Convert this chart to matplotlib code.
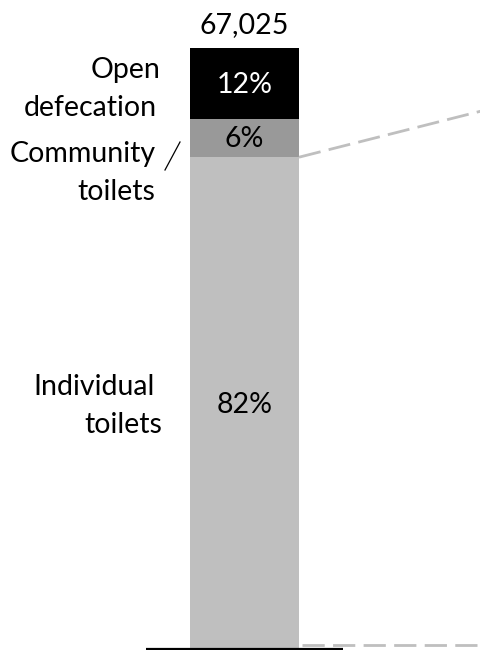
import matplotlib
matplotlib.use("Agg")
import matplotlib.pyplot as plt

plt.rcParams['font.family'] = ['Lato', 'DejaVu Sans']

# Data
segments = ["Individual\ntoilets", "Community\ntoilets", "Open\ndefecation"]
shares = [81.8, 6.4, 11.8]
pct_labels = ["82%", "6%", "12%"]
colors = ["#BFBFBF", "#999999", "#000000"]
text_colors = ["#000000", "#000000", "#FFFFFF"]
total_label = "67,025"

W, H = 481, 650
fig = plt.figure(figsize=(W / 100, H / 100), dpi=100)
ax = fig.add_axes([0, 0, 1, 1])
ax.set_xlim(-244.5 / 109, (W - 244.5) / 109)
ax.set_ylim(-2 / 6, 648 / 6)
ax.axis("off")


def px(x, y):
    return (x - 244.5) / 109, (648 - y) / 6


fs = 20.5
bottom = 0
pct_baselines = [413, 147, 93]
for val, pl, c, tc, bl in zip(shares, pct_labels, colors, text_colors, pct_baselines):
    ax.bar(0, val, bottom=bottom, width=1.0, color=c, edgecolor="none")
    ax.text(0, px(0, bl)[1], pl, ha="center", va="baseline", color=tc, fontsize=fs)
    bottom += val

ax.text(0, px(0, 33)[1], total_label, ha="center", va="baseline", fontsize=fs)

# segment labels (left side), one line at a time
label_lines = [
    (segments[0].split("\n"), [(155, 395), (162, 433)]),
    (segments[1].split("\n"), [(156, 162), (155, 200)]),
    (segments[2].split("\n"), [(160, 78), (157, 116.5)]),
]
for lines, pos in label_lines:
    for t, (x, y) in zip(lines, pos):
        xd, yd = px(x, y)
        ax.text(xd, yd, t, ha="right", va="baseline", fontsize=fs)

# slash next to "Community"
(sx0, sy0), (sx1, sy1) = px(165, 170), px(180, 142)
ax.plot([sx0, sx1], [sy0, sy1], color="black", lw=0.9)

# baseline
ax.plot([-0.904, 0.904], [-0.17, -0.17], color="black", lw=1.6, solid_capstyle="butt")

# dashed connector lines
top_y = shares[0]
ax.plot([0.5, 2.6], [top_y, top_y + 2.1 * 4.6], color="#BFBFBF", lw=2, dashes=(8, 3), clip_on=True)
ax.plot([0.53, 2.6], [0.5, 0.5], color="#BFBFBF", lw=2, dashes=(8, 3), clip_on=True)

fig.savefig("out.png", dpi=100)
